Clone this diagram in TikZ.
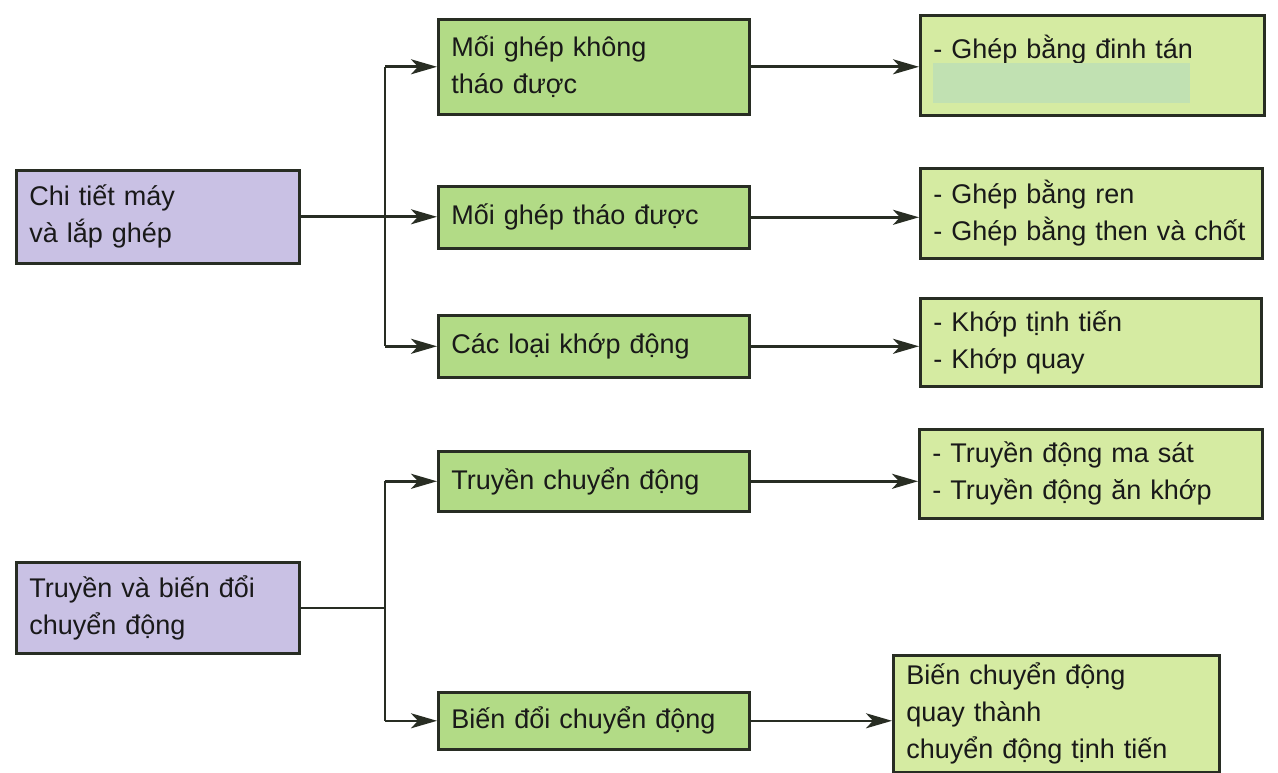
\documentclass[tikz,border=0pt]{standalone}
\usepackage{fontspec}
\setmainfont{Liberation Sans}
\usetikzlibrary{positioning,arrows.meta}
\definecolor{lilac}{RGB}{201,193,228}
\definecolor{midgreen}{RGB}{178,219,134}
\definecolor{lightgreen}{RGB}{213,235,162}
\definecolor{palegreen}{RGB}{193,225,178}
\definecolor{edge}{RGB}{40,45,35}

\begin{document}
\begin{tikzpicture}[x=1pt,y=-1pt,font=\fontsize{27}{37}\selectfont,
                    link/.style={draw=edge,line width=2.6pt},
                    arr/.style={link,-{Stealth[length=26pt,width=15pt,inset=7pt]}}]
  \useasboundingbox (0,0) rectangle (1278,773);

  \begin{scope}[every node/.style={rectangle,draw=edge,line width=2.6pt,anchor=north west,
                                   align=left,inner xsep=13pt,text=black!90}]
    \begin{scope}[nodes={fill=lilac,minimum width=283pt,text width=257pt}]
      \node[minimum height=93pt] (chitiet) at (15,169) {Chi tiết máy\\và lắp ghép};
      \node[minimum height=91pt] (truyen) at (15,561) {Truyền và biến đổi\\chuyển động};
    \end{scope}

    \begin{scope}[nodes={fill=midgreen,minimum width=311pt,text width=285pt}]
      \node[minimum height=95pt] (khongthao) at (437,18) {Mối ghép không\\tháo được};
      \node[minimum height=62pt] (thaoduoc) at (437,185) {Mối ghép tháo được};
      \node[minimum height=62pt] (khopdong) at (437,314) {Các loại khớp động};
      \node[minimum height=60pt] (truyencd) at (437,450) {Truyền chuyển động};
      \node[minimum height=57pt] (biendoi) at (437,691) {Biến đổi chuyển động};
    \end{scope}

    \begin{scope}[nodes={fill=lightgreen}]
      \node[minimum width=344pt,text width=318pt,minimum height=100pt] (dinhtan) at (919,14)
        {- Ghép bằng đinh tán\\~};
      \node[minimum width=342pt,text width=316pt,minimum height=90pt] (ren) at (919,167)
        {- Ghép bằng ren\\- Ghép bằng then và chốt};
      \node[minimum width=341pt,text width=315pt,minimum height=88pt] (khop) at (919,297)
        {- Khớp tịnh tiến\\- Khớp quay};
      \node[minimum width=343pt,text width=317pt,minimum height=89pt] (masat) at (918,428)
        {- Truyền động ma sát\\- Truyền động ăn khớp};
      \node[minimum width=326pt,text width=300pt,minimum height=117pt] (quay) at (892,654)
        {Biến chuyển động\\quay thành\\chuyển động tịnh tiến};
    \end{scope}
  \end{scope}

  \fill[palegreen] (933,63) rectangle (1190,103);

  \coordinate (fork1) at (385,0);
  \coordinate (top1) at (fork1 |- khongthao.west);
  \coordinate (bot1) at (fork1 |- khopdong.west);
  \coordinate (top2) at (fork1 |- truyencd.west);
  \coordinate (bot2) at (fork1 |- biendoi.west);
  \coordinate (mid2) at (fork1 |- truyen.east);

  \draw[link] (top1) -- (bot1);
  \draw[arr] (chitiet.east) -- (chitiet.east -| thaoduoc.west);
  \draw[arr] (top1) -- (khongthao.west);
  \draw[arr] (bot1) -- (khopdong.west);

  \draw[link] (top2) -- (bot2);
  \draw[link] (truyen.east) -- (mid2);
  \draw[arr] (top2) -- (truyencd.west);
  \draw[arr] (bot2) -- (biendoi.west);

  \draw[arr] (khongthao.east) -- (khongthao.east -| dinhtan.west);
  \draw[arr] (thaoduoc.east) -- (thaoduoc.east -| ren.west);
  \draw[arr] (khopdong.east) -- (khopdong.east -| khop.west);
  \draw[arr] (truyencd.east) -- (truyencd.east -| masat.west);
  \draw[arr] (biendoi.east) -- (biendoi.east -| quay.west);
\end{tikzpicture}
\end{document}
